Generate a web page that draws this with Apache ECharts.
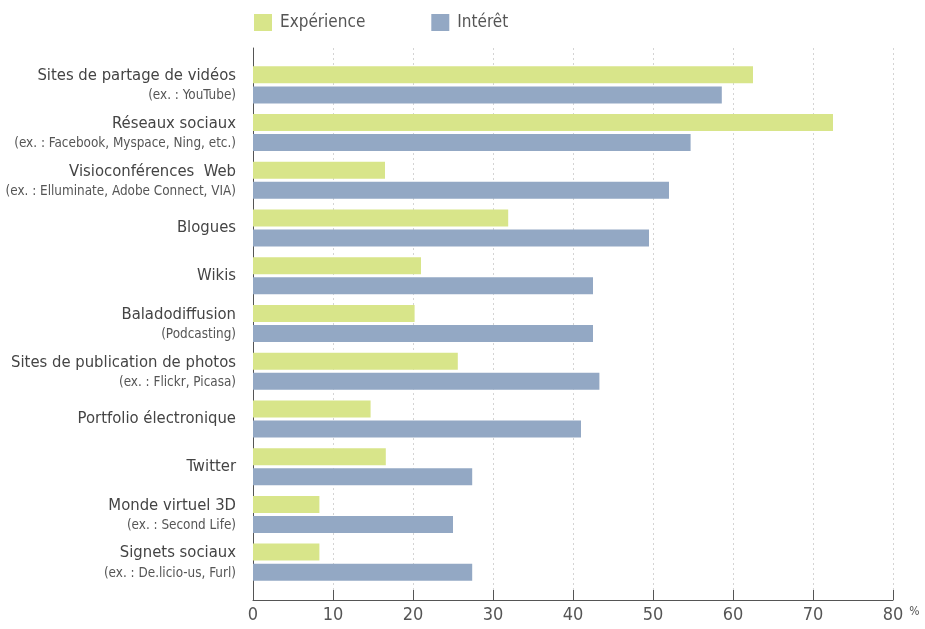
<!DOCTYPE html>
<html>
<head>
<meta charset="utf-8">
<script src="https://cdn.jsdelivr.net/npm/echarts@6/dist/echarts.min.js"></script>
<style>
html,body{margin:0;padding:0;background:#fff;}
#c{width:925px;height:629px;}
</style>
</head>
<body>
<div id="c"></div>
<script>
var categories = [
  'Sites de partage de vidéos',
  'Réseaux sociaux',
  'Visioconférences  Web',
  'Blogues',
  'Wikis',
  'Baladodiffusion',
  'Sites de publication de photos',
  'Portfolio électronique',
  'Twitter',
  'Monde virtuel 3D',
  'Signets sociaux'
];
var subtitles = [
  '(ex. : YouTube)',
  '(ex. : Facebook, Myspace, Ning, etc.)',
  '(ex. : Elluminate, Adobe Connect, VIA)',
  '',
  '',
  '(Podcasting)',
  '(ex. : Flickr, Picasa)',
  '',
  '',
  '(ex. : Second Life)',
  '(ex. : De.licio-us, Furl)'
];
var experience = [62.5, 72.5, 16.5, 31.9, 21.0, 20.2, 25.6, 14.7, 16.6, 8.3, 8.3];
var interest   = [58.6, 54.7, 52.0, 49.5, 42.5, 42.5, 43.3, 41.0, 27.4, 25.0, 27.4];
var seriesNames = ['Expérience', 'Intérêt'];

var FONT = "'Liberation Sans Narrow', 'DejaVu Sans Condensed', 'Roboto Condensed', 'Arial Narrow', sans-serif";
var GREEN = '#d8e58a';
var BLUE = '#93a8c4';

var chart = echarts.init(document.getElementById('c'), null, {renderer: 'canvas'});
chart.setOption({
  backgroundColor: '#ffffff',
  animation: false,
  legend: {
    left: 249, top: 9,
    itemWidth: 18, itemHeight: 17, itemGap: 66,
    icon: 'rect',
    textStyle: {fontFamily: FONT, fontSize: 17, color: '#555', padding: [2, 0, 0, 3]},
    data: seriesNames
  },
  grid: [
    {left: 253, right: 32, top: 61, bottom: 43, outerBoundsMode: 'none', containLabel: false},
    {left: 253, right: 32, top: 48, bottom: 29, outerBoundsMode: 'none', containLabel: false}
  ],
  xAxis: [
    {gridIndex: 0, type: 'value', min: 0, max: 80, interval: 10, show: false},
    {gridIndex: 1, type: 'value', min: 0, max: 80, interval: 10,
      name: '%', nameLocation: 'end', nameGap: 15,
      nameTextStyle: {fontFamily: FONT, fontSize: 12, color: '#555', verticalAlign: 'top', padding: [6, 0, 0, 0]},
      axisLine: {show: true, lineStyle: {color: '#555', width: 1}},
      axisTick: {show: true, inside: true, length: 10, lineStyle: {color: '#555'}},
      axisLabel: {fontFamily: FONT, fontSize: 18, color: '#555', margin: 6},
      splitLine: {show: true, lineStyle: {color: '#d4d4d4', type: [2, 3], width: 1}}
    }
  ],
  yAxis: [
    {gridIndex: 0, type: 'category', inverse: true, data: categories,
      axisLine: {show: false}, axisTick: {show: false}, splitLine: {show: false},
      axisLabel: {
        margin: 17,
        align: 'right',
        formatter: function (value, idx) {
          var s = subtitles[idx];
          return s ? '{m|' + value + '}\n{s|' + s + '}' : '{m|' + value + '}';
        },
        rich: {
          m: {fontFamily: FONT, fontSize: 16.5, color: '#444', lineHeight: 22, align: 'right'},
          s: {fontFamily: FONT, fontSize: 13.4, color: '#555', lineHeight: 18, align: 'right'}
        }
      }
    },
    {gridIndex: 1, type: 'value', min: 0, max: 1,
      axisLine: {show: true, lineStyle: {color: '#555', width: 1}},
      axisTick: {show: false}, axisLabel: {show: false}, splitLine: {show: false}
    }
  ],
  series: [
    {name: seriesNames[0], type: 'bar', xAxisIndex: 0, yAxisIndex: 0, data: experience,
      barWidth: 17, barGap: '18%', itemStyle: {color: GREEN}},
    {name: seriesNames[1], type: 'bar', xAxisIndex: 0, yAxisIndex: 0, data: interest,
      barWidth: 17, barGap: '18%', itemStyle: {color: BLUE}}
  ]
});
</script>
</body>
</html>
